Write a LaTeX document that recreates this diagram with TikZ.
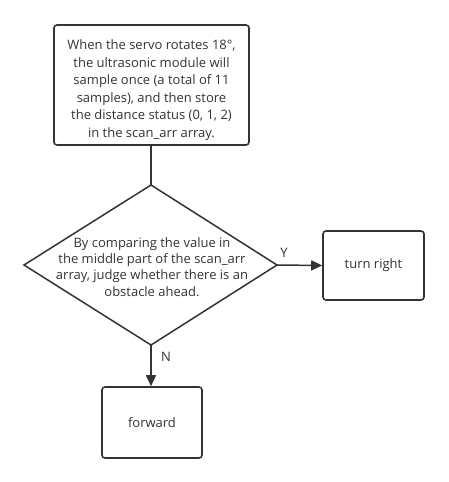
\documentclass[tikz,border=0pt]{standalone}
\usepackage{fontspec}
\setmainfont{Open Sans}
\usetikzlibrary{arrows.meta,shapes.geometric}
\definecolor{ln}{HTML}{333333}
\definecolor{tx}{HTML}{333333}
\tikzset{
  proc/.style={draw=ln, line width=1.6pt, rounded corners=3pt, align=center, text=tx, font=\fontsize{13}{17.6}\selectfont, inner sep=0pt},
  conn/.style={draw=ln, line width=1.5pt, -{Triangle[length=11pt,width=10pt]}},
  plain/.style={draw=ln, line width=1.5pt},
  lbl/.style={text=tx, font=\fontsize{13}{15}\selectfont}
}
\begin{document}
\begin{tikzpicture}[x=1pt,y=-1pt]
\useasboundingbox (0,0) rectangle (448,482);
\node[proc, minimum width=195pt, minimum height=120pt] (s) at (151.5,85) {\rule{0pt}{20pt}When the servo rotates 18°,\\the ultrasonic module will\\sample once (a total of 11\\samples), and then store\\the distance status (0, 1, 2)\\in the scan\_arr array.};
\coordinate (dt) at (151,185);
\coordinate (dr) at (277,265);
\coordinate (db) at (151,345);
\coordinate (dl) at (24,265);
\draw[plain] (dt) -- (dr) -- (db) -- (dl) -- cycle;
\node[text=tx, align=center, font=\fontsize{13}{16.2}\selectfont] (d) at (152,267) {By comparing the value in\\the middle part of the scan\_arr\\array, judge whether there is an\\obstacle ahead.};
\node[proc, minimum width=101pt, minimum height=69pt] (r) at (373.5,265.5) {turn right};
\node[proc, minimum width=100pt, minimum height=71pt] (f) at (152,422.5) {forward};
\draw[plain] (s.south -| dt) -- (dt);
\draw[conn] (dr) -- (r.west);
\draw[conn] (db) -- (f.north -| db);
\node[lbl] (y) at (284,253) {Y};
\node[lbl] (n) at (166,357) {N};
\end{tikzpicture}
\end{document}
